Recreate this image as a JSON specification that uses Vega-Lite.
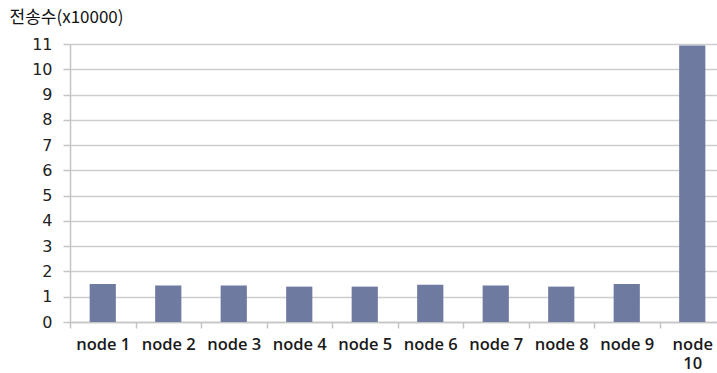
{
  "$schema": "https://vega.github.io/schema/vega-lite/v6.json",
  "autosize": {"type": "none"},
  "padding": {"left": 70, "top": 44, "right": 0, "bottom": 51},
  "width": 655,
  "height": 278,
  "background": "white",
  "config": {"view": {"stroke": null}},
  "data": {
    "values": [
      {"node": "node 1", "count": 1.50},
      {"node": "node 2", "count": 1.44},
      {"node": "node 3", "count": 1.44},
      {"node": "node 4", "count": 1.40},
      {"node": "node 5", "count": 1.40},
      {"node": "node 6", "count": 1.47},
      {"node": "node 7", "count": 1.44},
      {"node": "node 8", "count": 1.40},
      {"node": "node 9", "count": 1.50},
      {"node": "node 10", "count": 10.94}
    ]
  },
  "mark": {"type": "bar", "color": "#6f7aa1", "width": {"band": 0.4}},
  "encoding": {
    "x": {
      "field": "node",
      "type": "nominal",
      "sort": null,
      "scale": {"paddingInner": 0, "paddingOuter": 0},
      "axis": {
        "title": null,
        "tickBand": "extent",
        "grid": false,
        "domainColor": "#c4c4c4",
        "domainWidth": 1.5,
        "tickColor": "#c4c4c4",
        "tickWidth": 1.5,
        "tickSize": 6,
        "labelAngle": 0,
        "labelPadding": 8,
        "labelFont": "Open Sans",
        "labelFontSize": 16.5,
        "labelFontWeight": 600,
        "labelColor": "#1a1a1a",
        "labelLineHeight": 19,
        "labelOverlap": false,
        "labelLimit": 0,
        "labelExpr": "datum.value == 'node 10' ? ['node', '10'] : datum.value"
      }
    },
    "y": {
      "field": "count",
      "type": "quantitative",
      "scale": {"domain": [0, 11], "nice": false},
      "axis": {
        "values": [0, 1, 2, 3, 4, 5, 6, 7, 8, 9, 10, 11],
        "format": "d",
        "grid": true,
        "gridColor": "#cdcdcd",
        "gridWidth": 1.5,
        "domainColor": "#c4c4c4",
        "domainWidth": 1.5,
        "tickColor": "#c4c4c4",
        "tickWidth": 1.5,
        "tickSize": 7,
        "labelPadding": 11,
        "labelFont": "DejaVu Sans",
        "labelFontSize": 16,
        "labelColor": "#222222",
        "title": "전송수(x10000)",
        "titleAngle": 0,
        "titleAlign": "left",
        "titleBaseline": "middle",
        "titleX": -61,
        "titleY": -27,
        "titleFont": "Noto Sans CJK KR",
        "titleFontSize": 17,
        "titleFontWeight": "normal",
        "titleColor": "#111111"
      }
    }
  }
}
